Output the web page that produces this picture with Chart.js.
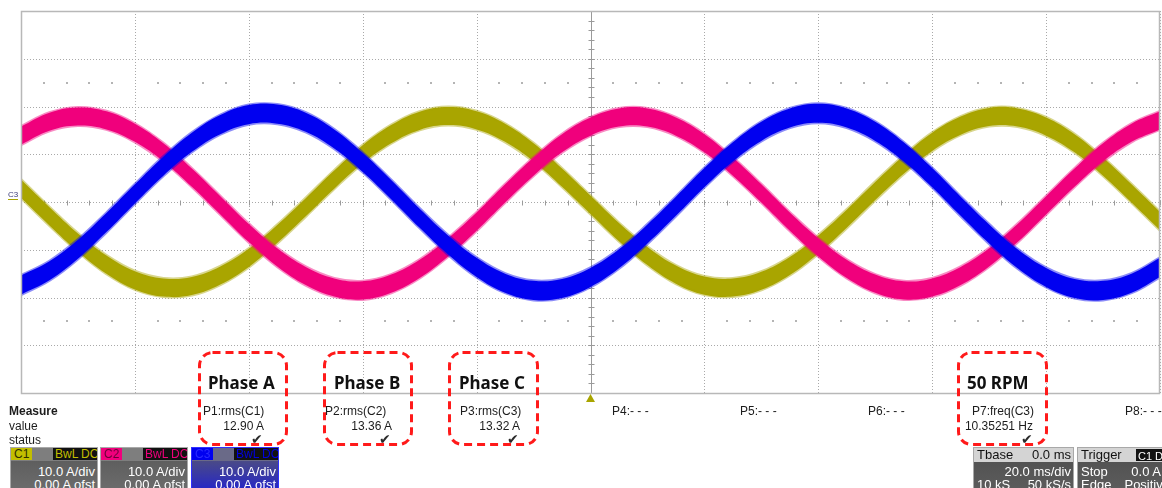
<!DOCTYPE html>
<html>
<head>
<meta charset="utf-8">
<script src="https://cdn.jsdelivr.net/npm/chart.js@4.4.1/dist/chart.umd.min.js"></script>
<style>
  html, body { margin: 0; padding: 0; background: #fff; }
  #scope { position: relative; width: 1162px; height: 488px; overflow: hidden;
           font-family: "Liberation Sans", Arial, sans-serif; color: #1c1c1c; }
  #scope canvas { position: absolute; left: 0; top: 0; }
  .t { position: absolute; font-size: 12px; line-height: 14px; white-space: nowrap; }
  .r { text-align: right; }
  .chk { position: absolute; font-family: "DejaVu Sans", sans-serif; font-size: 14px; line-height: 14px; color: #2a2a2a; }
  .tag { position: absolute; font-family: "Noto Sans", sans-serif; font-weight: 700; font-size: 17px;
         line-height: 20px; color: #111; white-space: nowrap; }
  .box { position: absolute; top: 447px; height: 44px; border: 1px solid #a8a8a8; box-sizing: border-box;
         background: linear-gradient(#585858, #6c6c6c); color: #fff; font-size: 13px; overflow: hidden; }
  .hd { position: relative; height: 13px; background: #7e7e7e; font-size: 12px; line-height: 13px; }
  .hd .id { position: absolute; left: 0; top: 0; padding: 0 3px; height: 12px; }
  .hd .fl { position: absolute; top: 0; height: 12px; padding: 0 2px; background: #111; }
  .ln { position: relative; height: 13px; line-height: 13px; white-space: nowrap; }
  .ln .a { position: absolute; left: 3px; }
  .ln .b { position: absolute; right: 2px; }
  .hdl { background: #d4d4d4; color: #111; }
  .c3mark { position: absolute; left: 8px; top: 190px; font-size: 8px; line-height: 9px; color: #3a3a78;
            border-bottom: 1px solid #a8a400; }
</style>
</head>
<body>
<div id="scope">
  <canvas id="chart" width="1162" height="488"></canvas>

  <div class="c3mark">C3</div>

  <div class="tag" style="left:208px;top:373px">Phase A</div>
  <div class="tag" style="left:334px;top:373px">Phase B</div>
  <div class="tag" style="left:459px;top:373px">Phase C</div>
  <div class="tag" style="left:967px;top:373px">50 RPM</div>

  <div class="t" style="left:9px;top:404px;font-weight:bold">Measure</div>
  <div class="t" style="left:9px;top:419px">value</div>
  <div class="t" style="left:9px;top:433px">status</div>

  <div class="t" style="left:203px;top:404px">P1:rms(C1)</div>
  <div class="t r" style="left:203px;width:61px;top:419px">12.90 A</div>
  <div class="chk" style="left:251px;top:432px">✔</div>

  <div class="t" style="left:325px;top:404px">P2:rms(C2)</div>
  <div class="t r" style="left:325px;width:67px;top:419px">13.36 A</div>
  <div class="chk" style="left:379px;top:432px">✔</div>

  <div class="t" style="left:460px;top:404px">P3:rms(C3)</div>
  <div class="t r" style="left:460px;width:60px;top:419px">13.32 A</div>
  <div class="chk" style="left:507px;top:432px">✔</div>

  <div class="t" style="left:612px;top:404px">P4:- - -</div>
  <div class="t" style="left:740px;top:404px">P5:- - -</div>
  <div class="t" style="left:868px;top:404px">P6:- - -</div>

  <div class="t" style="left:972px;top:404px">P7:freq(C3)</div>
  <div class="t r" style="left:960px;width:73px;top:419px">10.35251 Hz</div>
  <div class="chk" style="left:1021px;top:432px">✔</div>

  <div class="t" style="left:1125px;top:404px">P8:- - -</div>

  <!-- channel descriptor boxes -->
  <div class="box" style="left:10px;width:88px">
    <div class="hd">
      <span class="id" style="background:#c2be00;color:#2e2e00">C1</span>
      <span class="fl" style="left:42px;color:#c2be00">BwL</span>
      <span class="fl" style="left:68px;color:#c2be00">DC</span>
    </div>
    <div class="ln" style="margin-top:4px"><span class="b">10.0 A/div</span></div>
    <div class="ln"><span class="b">0.00 A ofst</span></div>
  </div>
  <div class="box" style="left:100px;width:88px">
    <div class="hd">
      <span class="id" style="background:#f0007c;color:#6a0038">C2</span>
      <span class="fl" style="left:42px;color:#f0007c">BwL</span>
      <span class="fl" style="left:68px;color:#f0007c">DC</span>
    </div>
    <div class="ln" style="margin-top:4px"><span class="b">10.0 A/div</span></div>
    <div class="ln"><span class="b">0.00 A ofst</span></div>
  </div>
  <div class="box" style="left:191px;width:88px;border-color:#3030ff;background:linear-gradient(#5a5a6a,#2626c8)">
    <div class="hd" style="background:#6a6a88">
      <span class="id" style="background:#0000f0;color:#2a2aff">C3</span>
      <span class="fl" style="left:42px;color:#0000e0">BwL</span>
      <span class="fl" style="left:68px;color:#0000e0">DC</span>
    </div>
    <div class="ln" style="margin-top:4px"><span class="b">10.0 A/div</span></div>
    <div class="ln"><span class="b">0.00 A ofst</span></div>
  </div>

  <div class="box" style="left:973px;width:101px;background:linear-gradient(#4e4e4e,#5c5c5c)">
    <div class="hd hdl" style="height:14px;line-height:14px;font-size:13px">
      <span style="position:absolute;left:3px">Tbase</span><span style="position:absolute;right:2px">0.0 ms</span>
    </div>
    <div class="ln" style="margin-top:3px"><span class="b">20.0 ms/div</span></div>
    <div class="ln"><span class="a">10 kS</span><span class="b">50 kS/s</span></div>
  </div>
  <div class="box" style="left:1077px;width:92px;background:linear-gradient(#4e4e4e,#5c5c5c)">
    <div class="hd hdl" style="height:14px;line-height:14px;font-size:13px">
      <span style="position:absolute;left:3px">Trigger</span>
      <span class="fl" style="left:58px;top:1px;color:#fff;font-size:11px">C1</span>
      <span class="fl" style="left:75px;top:1px;color:#fff;font-size:11px">DC</span>
    </div>
    <div class="ln" style="margin-top:3px"><span class="a">Stop</span><span class="b" style="right:7px">0.0 A</span></div>
    <div class="ln"><span class="a">Edge</span><span class="b" style="right:-2px">Positive</span></div>
  </div>
</div>

<script>
// Acquisition time axis (ms, trigger at 0) and the three phase currents (A, trace centre)
const timeMs = [-100,-95,-90,-85,-80,-75,-70,-65,-60,-55,-50,-45,-40,-35,-30,-25,-20,-15,-10,-5,
                0,5,10,15,20,25,30,35,40,45,50,55,60,65,70,75,80,85,90,95,100];
const c1PhaseA = [2.8,-3.0,-8.5,-13.1,-16.4,-17.9,-17.6,-15.4,-11.7,-6.7,-1.1,4.7,10.0,14.2,17.0,18.0,17.1,14.5,10.4,5.1,
                  -0.6,-6.3,-11.3,-15.2,-17.5,-17.9,-16.5,-13.4,-8.9,-3.5,2.3,7.8,12.6,16.0,17.8,17.7,15.8,12.3,7.4,1.8,-4.0];
const c2PhaseB = [13.9,16.8,17.9,17.1,14.5,10.4,5.1,-0.7,-6.5,-11.6,-15.5,-17.9,-18.5,-17.1,-14.0,-9.5,-4.1,1.8,7.4,12.3,
                  15.8,17.7,17.7,15.8,12.3,7.4,1.8,-4.1,-9.5,-14.0,-17.1,-18.5,-17.9,-15.5,-11.6,-6.5,-0.7,5.1,10.4,14.5,17.1];
const c3PhaseC = [-17.4,-14.4,-9.9,-4.3,1.7,7.5,12.5,16.2,18.3,18.4,16.7,13.2,8.3,2.6,-3.4,-9.0,-13.7,-17.0,-18.5,-18.1,
                  -15.8,-11.9,-6.7,-0.9,5.1,10.5,14.8,17.6,18.6,17.6,14.8,10.5,5.1,-0.9,-6.7,-11.9,-15.8,-18.1,-18.5,-17.0,-13.7];
// PWM ripple riding on each trace: half-height of the band (A)
const rippleA = [1.9, 1.9, 2.0];
// Screen graticule: time and current divisions
const timeTicksMs = [-100,-80,-60,-40,-20,0,20,40,60,80,100];
const currentTicksA = [-40,-30,-20,-10,0,10,20,30,40];
const markerRowsA = [25, -25];

const traces = [
  { name: 'C1', values: c1PhaseA, color: '#a9a500', edge: 'rgba(169,165,0,0.45)', order: 2 },
  { name: 'C2', values: c2PhaseB, color: '#f0007c', edge: 'rgba(240,0,124,0.45)', order: 1 },
  { name: 'C3', values: c3PhaseC, color: '#0000f0', edge: 'rgba(0,0,240,0.45)', order: 0 }
];

const datasets = [];
traces.forEach((tr, i) => {
  const lowIdx = datasets.length;
  const common = { borderColor: tr.edge, borderWidth: 3, pointRadius: 0, tension: 0.4, order: tr.order };
  datasets.push(Object.assign({ label: tr.name + ' low', fill: false,
    data: timeMs.map((t, k) => ({ x: t, y: tr.values[k] - rippleA[i] })) }, common));
  datasets.push(Object.assign({ label: tr.name + ' high',
    fill: { target: lowIdx, above: tr.color, below: tr.color }, backgroundColor: tr.color,
    data: timeMs.map((t, k) => ({ x: t, y: tr.values[k] + rippleA[i] })) }, common));
});

const graticule = {
  id: 'graticule',
  beforeDatasetsDraw(chart) {
    const { ctx, chartArea: a, scales: { x, y } } = chart;
    ctx.save();
    // dotted division lines
    ctx.strokeStyle = '#a9a9a9';
    ctx.lineWidth = 1;
    ctx.setLineDash([1, 2]);
    ctx.beginPath();
    x.ticks.forEach(tk => {
      const px = Math.round(x.getPixelForValue(tk.value)) + 0.5;
      ctx.moveTo(px, a.top); ctx.lineTo(px, a.bottom);
    });
    y.ticks.forEach(tk => {
      const py = Math.round(y.getPixelForValue(tk.value)) + 0.5;
      ctx.moveTo(a.left, py); ctx.lineTo(a.right, py);
    });
    ctx.stroke();
    ctx.setLineDash([]);
    // marker dot rows at +/- 2.5 div
    ctx.fillStyle = '#b4b4b4';
    markerRowsA.forEach(v => {
      const py = Math.round(y.getPixelForValue(v));
      for (let t = timeTicksMs[0]; t <= timeTicksMs[timeTicksMs.length - 1]; t += 4) {
        if (t % 20 === 0) continue;
        ctx.fillRect(Math.round(x.getPixelForValue(t)) - 1, py - 1, 2, 2);
      }
    });
    // centre cross with minor ticks
    const cx = Math.round(x.getPixelForValue(0)) + 0.5;
    const cy = Math.round(y.getPixelForValue(0)) + 0.5;
    ctx.strokeStyle = '#9a9a9a';
    ctx.beginPath();
    ctx.moveTo(cx, a.top); ctx.lineTo(cx, a.bottom);
    for (let v = currentTicksA[0]; v <= currentTicksA[currentTicksA.length - 1]; v += 2) {
      const py = Math.round(y.getPixelForValue(v)) + 0.5;
      ctx.moveTo(cx - 3, py); ctx.lineTo(cx + 3, py);
    }
    for (let t = timeTicksMs[0]; t <= timeTicksMs[timeTicksMs.length - 1]; t += 4) {
      const px = Math.round(x.getPixelForValue(t)) + 0.5;
      ctx.moveTo(px, cy - 2); ctx.lineTo(px, cy + 3);
    }
    ctx.stroke();
    ctx.restore();
  },
  afterDraw(chart) {
    const { ctx, chartArea: a, scales: { x } } = chart;
    ctx.save();
    // screen frame
    ctx.strokeStyle = '#b8b8b8';
    ctx.lineWidth = 1.5;
    ctx.strokeRect(a.left + 0.5, a.top + 0.5, a.right - a.left - 1, a.bottom - a.top);
    // trigger position marker
    const tx = x.getPixelForValue(0);
    ctx.fillStyle = '#a9a500';
    ctx.beginPath();
    ctx.moveTo(tx, a.bottom + 1); ctx.lineTo(tx - 4.5, a.bottom + 9); ctx.lineTo(tx + 4.5, a.bottom + 9);
    ctx.closePath(); ctx.fill();
    // highlight frames round the quoted readings
    ctx.strokeStyle = '#ff1a1a';
    ctx.lineWidth = 3;
    ctx.setLineDash([8, 5]);
    [[199, 87], [324, 87], [449, 88], [958, 88]].forEach(([bx, bw]) => {
      ctx.beginPath();
      ctx.roundRect(bx + 0.5, 352.5, bw, 92, 13);
      ctx.stroke();
    });
    ctx.restore();
  }
};

new Chart(document.getElementById('chart'), {
  type: 'line',
  data: { datasets },
  options: {
    responsive: false,
    animation: false,
    devicePixelRatio: 1,
    layout: { padding: { left: 21, top: 11, right: 2, bottom: 95 } },
    plugins: { legend: { display: false }, tooltip: { enabled: false } },
    scales: {
      x: {
        type: 'linear', min: -100, max: 100,
        afterBuildTicks: s => { s.ticks = timeTicksMs.map(v => ({ value: v })); },
        afterFit: s => { s.height = 0; },
        ticks: { display: false },
        grid: { display: false },
        border: { display: false }
      },
      y: {
        type: 'linear', min: -40, max: 40,
        afterBuildTicks: s => { s.ticks = currentTicksA.map(v => ({ value: v })); },
        afterFit: s => { s.width = 0; },
        ticks: { display: false },
        grid: { display: false },
        border: { display: false }
      }
    }
  },
  plugins: [graticule]
});
</script>
</body>
</html>
